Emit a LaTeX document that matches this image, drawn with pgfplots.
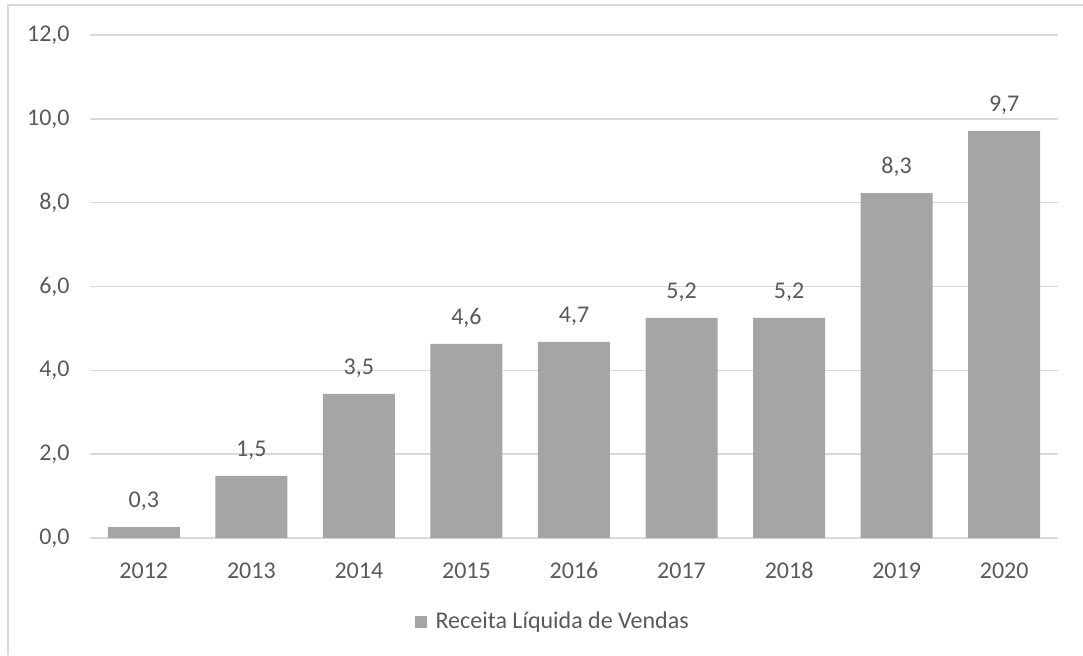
\documentclass[border=0pt]{standalone}
\usepackage{fontspec}
\setmainfont{Carlito}
\usepackage{pgfplots}
\usepackage{pgfplotstable}
\pgfplotsset{compat=1.18}
\definecolor{bargray}{HTML}{A5A5A5}
\definecolor{txt}{HTML}{595959}
\definecolor{gridc}{HTML}{D9D9D9}
\pgfplotstableread{
x y lab
0 0.26 {0,3}
1 1.48 {1,5}
2 3.44 {3,5}
3 4.63 {4,6}
4 4.68 {4,7}
5 5.25 {5,2}
6 5.25 {5,2}
7 8.23 {8,3}
8 9.71 {9,7}
}\datatable
\begin{document}
\fontsize{12}{14}\selectfont
\begin{tikzpicture}
\useasboundingbox (0,0) rectangle (541.5pt,327.5pt);
\draw[gridc, line width=1.2pt] (4pt,0) -- (4pt,325pt) -- (541.5pt,325pt);
\begin{axis}[
  at={(45pt,58.5pt)}, anchor=south west,
  scale only axis, width=484pt, height=251.5pt,
  xmin=-0.5, xmax=8.5, ymin=0, ymax=12,
  ytick={0,2,4,6,8,10,12},
  xtick={0,1,2,3,4,5,6,7,8},
  xticklabels={2012,2013,2014,2015,2016,2017,2018,2019,2020},
  major tick length=0pt,
  axis line style={draw=none},
  ymajorgrids, grid style={gridc, line width=0.75pt},
  yticklabel style={text=txt, xshift=-6pt},
  xticklabel style={text=txt, text height=8pt, text depth=2pt, anchor=north, yshift=-8pt},
  /pgf/number format/.cd, use comma, fixed, fixed zerofill, precision=1, assume math mode=true,
  /pgfplots/.cd,
  legend style={at={(0.479,-0.167)}, anchor=center, draw=none, fill=none, inner sep=0pt,
    column sep=2.5pt, text=txt, font=\fontsize{12}{14}\selectfont},
  legend image code/.code={\fill[bargray] (0pt,-3pt) rectangle (6pt,3pt);},
  legend cell align=left,
]
\addplot[ybar, bar width=36pt, fill=bargray, draw=none,
  nodes near coords, point meta=explicit symbolic,
  every node near coord/.append style={text=txt, text height=8pt, text depth=2pt, anchor=south, yshift=3.5pt}]
  table[x=x, y=y, meta=lab] {\datatable};
\addlegendentry{Receita Líquida de Vendas}
\end{axis}
\end{tikzpicture}
\end{document}
